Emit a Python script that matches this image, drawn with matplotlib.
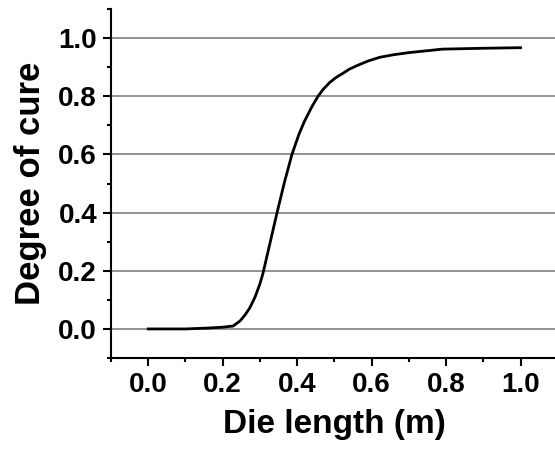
import numpy as np
import matplotlib.pyplot as plt
from matplotlib.ticker import MultipleLocator

# datos
die_length = [0.0, 0.10, 0.16, 0.20, 0.228, 0.247, 0.26, 0.273, 0.287, 0.30, 0.308,
              0.327, 0.346, 0.366, 0.386, 0.405, 0.42, 0.44, 0.456, 0.47, 0.488,
              0.505, 0.523, 0.54, 0.56, 0.59, 0.622, 0.66, 0.70, 0.79, 0.90, 1.0]
degree_cure = [0.0, 0.0, 0.003, 0.006, 0.01, 0.028, 0.048, 0.073, 0.11, 0.155, 0.19,
               0.295, 0.40, 0.505, 0.60, 0.67, 0.715, 0.765, 0.80, 0.824, 0.848,
               0.865, 0.879, 0.893, 0.905, 0.921, 0.934, 0.943, 0.950, 0.962, 0.965, 0.967]
x_ticks = [0.0, 0.2, 0.4, 0.6, 0.8, 1.0]
y_ticks = [0.0, 0.2, 0.4, 0.6, 0.8, 1.0]

plt.rcParams['font.family'] = ['Liberation Sans', 'DejaVu Sans']

fig = plt.figure(figsize=(5.55, 4.5), dpi=100)
ax = fig.add_axes([0.2, 0.2044, 1.005 - 0.2, 0.98 - 0.2044])

for yv in y_ticks:
    ax.axhline(yv, color='#808080', lw=1.2, zorder=1)

ax.plot(die_length, degree_cure, color='black', lw=2, zorder=3)

ax.set_xlim(-0.1, 1.1)
ax.set_ylim(-0.1, 1.1)
ax.set_xticks(x_ticks)
ax.set_yticks(y_ticks)
ax.set_xticklabels([f"{v:.1f}" for v in x_ticks])
ax.set_yticklabels([f"{v:.1f}" for v in y_ticks])
ax.xaxis.set_minor_locator(MultipleLocator(0.1))
ax.yaxis.set_minor_locator(MultipleLocator(0.1))

for s in ['top', 'right']:
    ax.spines[s].set_visible(False)
for s in ['left', 'bottom']:
    ax.spines[s].set_linewidth(1.5)

ax.tick_params(which='major', direction='out', length=6, width=1.5, labelsize=20, pad=4)
ax.tick_params(which='minor', direction='out', length=3, width=1.5)
for lab in ax.get_xticklabels() + ax.get_yticklabels():
    lab.set_fontweight('bold')

ax.set_xlabel('Die length (m)', fontsize=24, fontweight='bold', labelpad=8)
ax.set_ylabel('Degree of cure', fontsize=25, fontweight='bold', labelpad=8)

fig.savefig('out.png', dpi=100)
